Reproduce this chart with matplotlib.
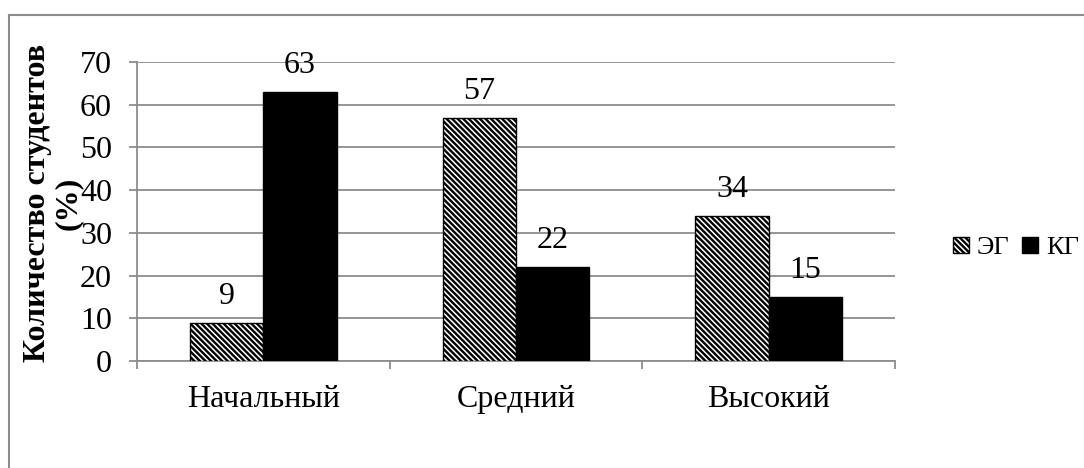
import matplotlib
matplotlib.use("Agg")
import matplotlib.pyplot as plt
from matplotlib.lines import Line2D
import numpy as np

categories = ["Начальный", "Средний", "Высокий"]
series_names = ["ЭГ", "КГ"]
eg_values = [9, 57, 34]
kg_values = [63, 22, 15]
y_ticks = [0, 10, 20, 30, 40, 50, 60, 70]
ylabel = "Количество студентов\n(%)"

plt.rcParams['font.family'] = ['Liberation Serif', 'DejaVu Serif']
plt.rcParams['hatch.linewidth'] = 1.7
plt.rcParams['hatch.color'] = 'black'

W, H = 1084, 468
fig = plt.figure(figsize=(W/100, H/100), dpi=100)
ax = fig.add_axes([137/W, 1-361/H, (895-137)/W, (361-62)/H])

grid_c = '#8c8c8c'
FS = 23
x = np.arange(len(categories))
bw = 0.29
b1 = ax.bar(x - bw/2, eg_values, bw, facecolor='white', edgecolor='black',
            hatch='\\\\\\\\\\\\', linewidth=1.0, label=series_names[0], zorder=3)
b2 = ax.bar(x + bw/2, kg_values, bw, facecolor='black', edgecolor='black',
            linewidth=1.0, label=series_names[1], zorder=3)

for bars, vals in ((b1, eg_values), (b2, kg_values)):
    for r, v in zip(bars, vals):
        ax.annotate(str(v), (r.get_x() + r.get_width()/2, v), xytext=(0, 8.5),
                    textcoords='offset points', ha='center', va='bottom', fontsize=FS)

ax.set_xlim(-0.5, len(categories) - 0.5)
ax.set_ylim(0, 70)
ax.set_yticks(y_ticks)
ax.set_yticklabels([str(t) for t in y_ticks], fontsize=FS)
ax.yaxis.grid(True, color=grid_c, linewidth=1.3, zorder=0)
ax.set_axisbelow(True)

ax.set_xticks(np.arange(len(categories) + 1) - 0.5)
ax.set_xticklabels([])
ax.set_xticks(x, minor=True)
ax.set_xticklabels(categories, minor=True, fontsize=FS)
ax.tick_params(axis='x', which='minor', length=0, pad=17)
ax.tick_params(axis='x', which='major', length=6, width=1.3, color=grid_c, direction='out')
ax.tick_params(axis='y', length=6, width=1.3, color=grid_c, direction='out', pad=12)

for s in ('top', 'right'):
    ax.spines[s].set_visible(False)
for s in ('left', 'bottom'):
    ax.spines[s].set_color(grid_c)
    ax.spines[s].set_linewidth(1.3)

fig.text(53/W, 1-203/H, ylabel, rotation=90, ha='center', va='center',
         fontsize=23, fontweight='bold', linespacing=1.1)

leg = fig.legend(handles=[b1, b2], labels=series_names, loc='center',
                 bbox_to_anchor=(1016/W, 1-248/H), ncol=2, frameon=False,
                 fontsize=19, handlelength=0.6, handleheight=0.6,
                 handletextpad=0.3, columnspacing=0.5, borderpad=0)

# outer chart frame
fig.add_artist(Line2D([9/W, 1.0], [1-15/H, 1-15/H], transform=fig.transFigure,
                      color='#8c8c8c', linewidth=1.5))
fig.add_artist(Line2D([9/W, 9/W], [1-15/H, 0.0], transform=fig.transFigure,
                      color='#8c8c8c', linewidth=1.5))

fig.savefig("out.png", dpi=100)
